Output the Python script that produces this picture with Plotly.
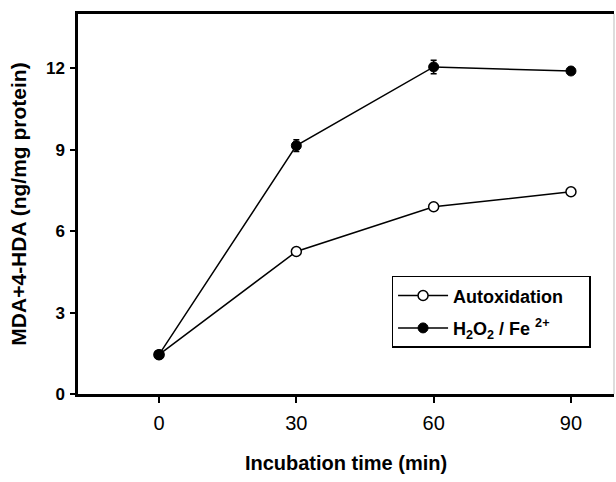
import plotly.graph_objects as go

time_min = [0, 30, 60, 90]
autox = [1.45, 5.25, 6.9, 7.45]
autox_err = [0.05, 0.1, 0.1, 0.1]
h2o2 = [1.45, 9.15, 12.05, 11.9]
h2o2_err = [0.05, 0.22, 0.25, 0.1]
x_ticks = [0, 30, 60, 90]
y_ticks = [0, 3, 6, 9, 12]

FONT = "Liberation Sans, Arial, sans-serif"
PAD = "&nbsp;" * 4

fig = go.Figure()
fig.add_trace(go.Scatter(
    x=time_min, y=autox, mode="lines+markers", name="<b>Autoxidation</b>" + PAD,
    line=dict(color="black", width=1.5),
    marker=dict(symbol="circle", size=10, color="white", line=dict(color="black", width=1.5)),
    error_y=dict(type="data", array=autox_err, color="black", thickness=1.5, width=3),
    legendgroup="a",
))
fig.add_trace(go.Scatter(
    x=time_min, y=h2o2, mode="lines+markers", name="<b>H<sub>2</sub>O<sub>2</sub> / Fe <sup>2+</sup></b>",
    line=dict(color="black", width=1.5),
    marker=dict(symbol="circle", size=10, color="black", line=dict(color="black", width=1)),
    error_y=dict(type="data", array=h2o2_err, color="black", thickness=1.5, width=3),
    legendgroup="b",
))

fig.add_shape(type="line", xref="x domain", yref="y domain", x0=1, x1=1, y0=0, y1=1,
              line=dict(color="#bbbbbb", width=1))

fig.update_layout(
    width=616, height=482,
    margin=dict(l=78, r=2, t=14, b=88),
    paper_bgcolor="white", plot_bgcolor="white",
    font=dict(family=FONT, color="black", size=17),
    showlegend=True,
    legend=dict(
        x=0.585, y=0.311, xanchor="left", yanchor="top",
        bordercolor="black", borderwidth=1.5, bgcolor="white",
        font=dict(family=FONT, size=18, color="black"),
        tracegroupgap=6, itemwidth=50,
    ),
    xaxis=dict(
        range=[-17.7, 99.4], tickvals=x_ticks, ticktext=[str(v) for v in x_ticks],
        showgrid=False, zeroline=False, showline=True, linecolor="black", linewidth=2.5,
        mirror=True, ticks="outside", ticklen=6, tickwidth=2, tickcolor="black",
        tickfont=dict(size=20), ticklabelstandoff=3,
        title=dict(text="<b>Incubation time (min)</b>", font=dict(size=20), standoff=24),
    ),
    yaxis=dict(
        range=[0, 14], tickvals=y_ticks, ticktext=[f"<b>{v}</b>" for v in y_ticks],
        showgrid=False, zeroline=False, showline=True, linecolor="black", linewidth=2.5,
        mirror=False, ticks="outside", ticklen=5, tickwidth=2, tickcolor="black",
        tickfont=dict(size=17), ticklabelstandoff=2,
        title=dict(text="<b>MDA+4-HDA (ng/mg protein)</b>", font=dict(size=21), standoff=14),
    ),
)

fig.write_html("out.html")
